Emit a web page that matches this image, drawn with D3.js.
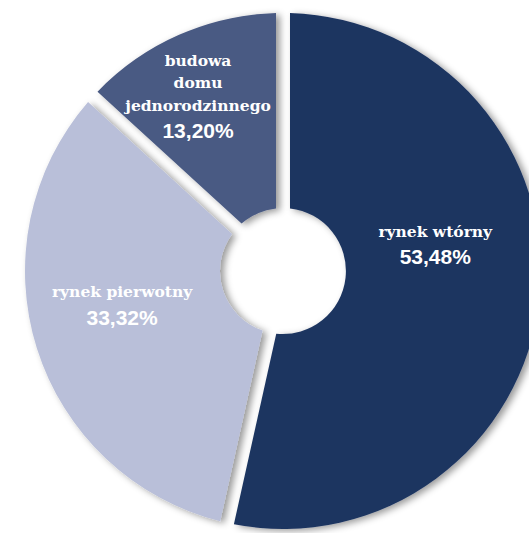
<!DOCTYPE html>
<html>
<head>
<meta charset="utf-8">
<script src="https://cdn.jsdelivr.net/npm/d3@7"></script>
<style>
  html, body { margin: 0; padding: 0; background: #ffffff; }
  svg { display: block; }
</style>
</head>
<body>
<svg id="chart" width="529" height="533"></svg>
<script>
// Struktura rynku: udział poszczególnych segmentów (%)
const categories = ["rynek wtórny", "rynek pierwotny", "budowa domu jednorodzinnego"];
const shares = [53.48, 33.32, 13.20];
const shareLabels = ["53,48%", "33,32%", "13,20%"];
const nameLines = [["rynek wtórny"], ["rynek pierwotny"], ["budowa", "domu", "jednorodzinnego"]];
const colors = ["#1f3661", "#b9bfd9", "#4a5a83"];

const width = 529, height = 533;
const cx = 283, cy = 271;
const outerR = 258, innerR = 63;
const gap = 14;                          // szerokość przerwy między wycinkami (px)
// położenie pierwszej linii etykiety: kąt (stopnie, od góry zgodnie z ruchem wskazówek) i promień
const labelAngle = [77.4, 260.8, 337.5];
const labelRadius = [156, 163, 222];

const svg = d3.select("#chart");

const defs = svg.append("defs");
const shadow = defs.append("filter")
  .attr("id", "shadow")
  .attr("x", "-20%").attr("y", "-20%")
  .attr("width", "140%").attr("height", "140%");
shadow.append("feDropShadow")
  .attr("dx", 4).attr("dy", 2)
  .attr("stdDeviation", 3.5)
  .attr("flood-color", "#000")
  .attr("flood-opacity", 0.4);

const data = categories.map((c, i) => ({
  name: c, value: shares[i], label: shareLabels[i], lines: nameLines[i],
  color: colors[i], la: labelAngle[i] * Math.PI / 180, lr: labelRadius[i]
}));

const pie = d3.pie().value(d => d.value).sort(null).startAngle(0).endAngle(2 * Math.PI);
const arcs = pie(data);

const arc = d3.arc()
  .innerRadius(innerR)
  .outerRadius(outerR)
  .padRadius(outerR)
  .padAngle(gap / outerR);

const g = svg.append("g").attr("transform", `translate(${cx},${cy})`);

g.selectAll("path.slice")
  .data(arcs)
  .join("path")
  .attr("class", "slice")
  .attr("d", arc)
  .attr("fill", d => d.data.color)
  .attr("filter", "url(#shadow)");

// Etykiety: nazwa segmentu (szeryfowa) i udział procentowy
const labels = g.selectAll("g.label")
  .data(arcs)
  .join("g")
  .attr("class", "label")
  .attr("transform", d => `translate(${Math.sin(d.data.la) * d.data.lr},${-Math.cos(d.data.la) * d.data.lr})`);

labels.each(function(d) {
  const sel = d3.select(this);
  const n = d.data.lines.length;
  const lh = 22.5;
  d.data.lines.forEach((line, i) => {
    sel.append("text")
      .attr("x", 0)
      .attr("y", i * lh)
      .attr("text-anchor", "middle")
      .attr("fill", "#ffffff")
      .attr("font-family", "'DejaVu Serif', serif")
      .attr("font-weight", "bold")
      .attr("font-size", 15.5)
      .text(line);
  });
  sel.append("text")
    .attr("x", 0)
    .attr("y", (n - 1) * lh + 27.5)
    .attr("text-anchor", "middle")
    .attr("fill", "#ffffff")
    .attr("font-family", "'Liberation Sans', Arial, sans-serif")
    .attr("font-weight", "bold")
    .attr("font-size", 21)
    .text(d.data.label);
});
</script>
</body>
</html>
